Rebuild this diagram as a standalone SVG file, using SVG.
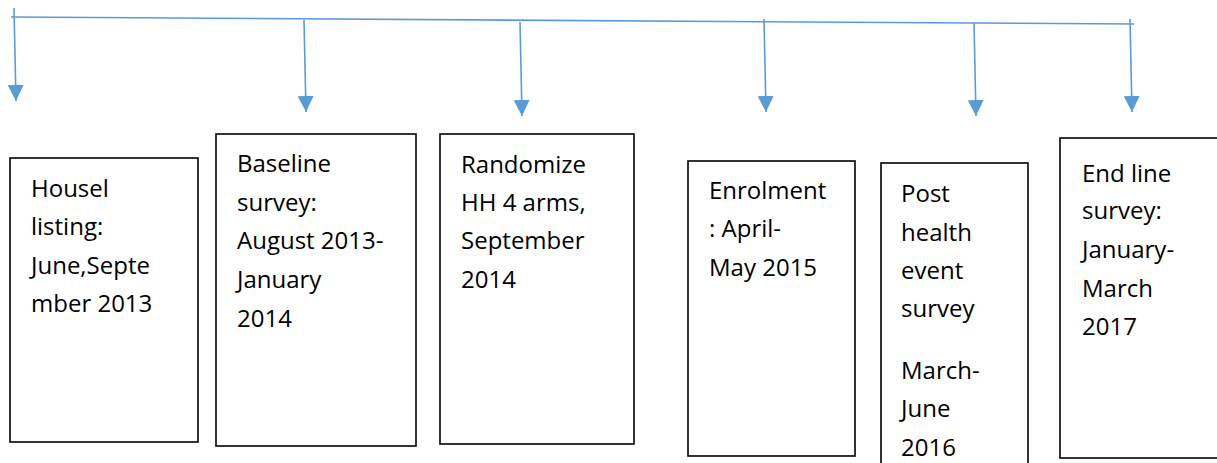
<svg xmlns="http://www.w3.org/2000/svg" width="1217" height="463" viewBox="0 0 1217 463">
<style>
.box{fill:#fff;stroke:#000;stroke-width:1.6}
.conn{stroke:#5B9BD5;stroke-width:1.6;fill:none}
.t{font-family:"Open Sans","Liberation Sans",sans-serif;font-size:24px;fill:#000}
</style>
<defs>
<marker id="ah" markerUnits="userSpaceOnUse" markerWidth="16" markerHeight="16" viewBox="0 0 15 15" refX="15" refY="7.5" orient="auto">
<path d="M0,0 L15,7.5 L0,15 z" fill="#5B9BD5"/>
</marker>
</defs>
<rect width="1217" height="463" fill="#fff"/>
<g id="connectors">
<line class="conn" x1="11" y1="17" x2="1134" y2="24"/>
<line class="conn" x1="14" y1="8" x2="16" y2="101" marker-end="url(#ah)"/>
<line class="conn" x1="304" y1="20" x2="306" y2="112" marker-end="url(#ah)"/>
<line class="conn" x1="520" y1="22" x2="522" y2="116" marker-end="url(#ah)"/>
<line class="conn" x1="764" y1="19" x2="766" y2="112" marker-end="url(#ah)"/>
<line class="conn" x1="974" y1="23" x2="976" y2="116" marker-end="url(#ah)"/>
<line class="conn" x1="1130" y1="19" x2="1132" y2="112" marker-end="url(#ah)"/>
</g>
<g id="node1">
<rect class="box" x="10" y="158" width="188" height="284"/>
<text class="t" x="31" y="197">Housel</text>
<text class="t" x="31" y="235">listing:</text>
<text class="t" x="31" y="274">June,Septe</text>
<text class="t" x="31" y="312">mber 2013</text>
</g>
<g id="node2">
<rect class="box" x="216" y="134" width="200" height="312"/>
<text class="t" x="237" y="172">Baseline</text>
<text class="t" x="237" y="211">survey:</text>
<text class="t" x="237" y="249">August 2013-</text>
<text class="t" x="237" y="288">January</text>
<text class="t" x="237" y="327">2014</text>
</g>
<g id="node3">
<rect class="box" x="440" y="134" width="194" height="310"/>
<text class="t" x="461" y="173">Randomize</text>
<text class="t" x="461" y="211">HH 4 arms,</text>
<text class="t" x="461" y="249">September</text>
<text class="t" x="461" y="288">2014</text>
</g>
<g id="node4">
<rect class="box" x="688" y="161" width="167" height="295"/>
<text class="t" x="709" y="199">Enrolment</text>
<text class="t" x="709" y="237">: April-</text>
<text class="t" x="709" y="276">May 2015</text>
</g>
<g id="node5">
<rect class="box" x="881" y="163" width="147" height="310"/>
<text class="t" x="901" y="202">Post</text>
<text class="t" x="901" y="241">health</text>
<text class="t" x="901" y="279">event</text>
<text class="t" x="901" y="317">survey</text>
<text class="t" x="901" y="379">March-</text>
<text class="t" x="901" y="417">June</text>
<text class="t" x="901" y="456">2016</text>
</g>
<g id="node6">
<rect class="box" x="1060" y="138" width="170" height="320"/>
<text class="t" x="1082" y="182">End line</text>
<text class="t" x="1082" y="219">survey:</text>
<text class="t" x="1082" y="258">January-</text>
<text class="t" x="1082" y="297">March</text>
<text class="t" x="1082" y="335">2017</text>
</g>
</svg>
